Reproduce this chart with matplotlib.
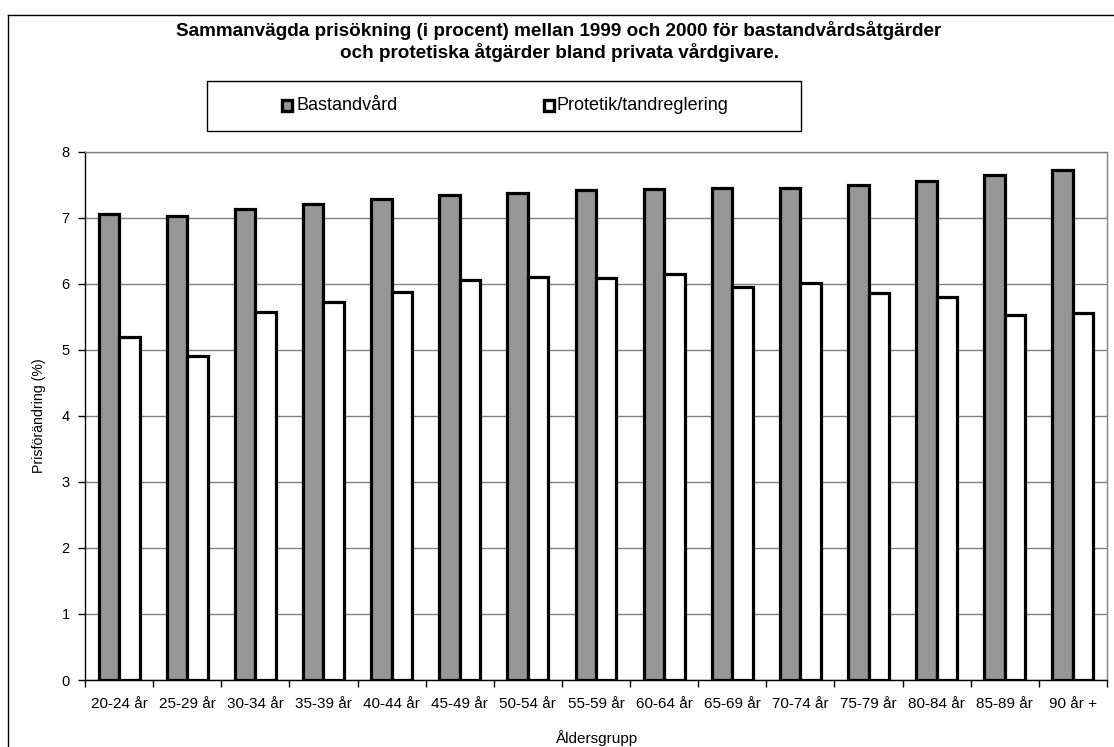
import matplotlib
matplotlib.use("Agg")
import matplotlib.pyplot as plt
from matplotlib.patches import Rectangle
from matplotlib.lines import Line2D
import numpy as np

plt.rcParams['font.family'] = ['Liberation Sans', 'DejaVu Sans']

categories = ["20-24 år", "25-29 år", "30-34 år", "35-39 år", "40-44 år", "45-49 år",
              "50-54 år", "55-59 år", "60-64 år", "65-69 år", "70-74 år", "75-79 år",
              "80-84 år", "85-89 år", "90 år +"]
bastandvard = [7.05, 7.03, 7.13, 7.21, 7.28, 7.34, 7.37, 7.42, 7.43, 7.45, 7.45, 7.50,
               7.55, 7.64, 7.72]
protetik = [5.20, 4.91, 5.58, 5.73, 5.87, 6.06, 6.10, 6.09, 6.15, 5.95, 6.01, 5.86,
            5.80, 5.53, 5.55]
series_names = ["Bastandvård", "Protetik/tandreglering"]
yticks = [0, 1, 2, 3, 4, 5, 6, 7, 8]

W, H = 1114, 747
fig = plt.figure(figsize=(W / 100, H / 100), dpi=100)

def fx(px):
    return px / W

def fy(py):
    return 1 - py / H

ax = fig.add_axes([fx(85), fy(680), fx(1107) - fx(85), fy(151.7) - fy(680)])

x = np.arange(len(categories))
bw = 0.3
gray = '#969696'
ax.bar(x - bw / 2, bastandvard, bw, color=gray, edgecolor='black', linewidth=2.3, zorder=3)
ax.bar(x + bw / 2, protetik, bw, color='white', edgecolor='black', linewidth=2.3, zorder=3)

ax.set_xlim(-0.5, len(categories) - 0.5)
ax.set_ylim(0, 8)
ax.set_yticks(yticks)
ax.set_yticklabels([str(v) for v in yticks], fontsize=10.5)
ax.yaxis.grid(True, color='#808080', linewidth=1.0, zorder=0)
ax.set_axisbelow(True)

ax.set_xticks(np.arange(-0.5, len(categories), 1.0))
ax.set_xticklabels([])
ax.set_xticks(x, minor=True)
ax.set_xticklabels(categories, minor=True, fontsize=11)
ax.tick_params(axis='x', which='major', direction='out', length=5, width=1, color='black')
ax.tick_params(axis='x', which='minor', length=0, pad=12)
ax.tick_params(axis='y', direction='out', length=5, width=1, color='black', pad=6)

for s in ['top', 'right']:
    ax.spines[s].set_color('#808080')
    ax.spines[s].set_linewidth(1.0)
for s in ['left', 'bottom']:
    ax.spines[s].set_color('black')
    ax.spines[s].set_linewidth(1.0)

fig.text(fx(39), fy(416), "Prisförändring (%)", rotation=90, ha='center', va='center', fontsize=10.2)
fig.text(fx(596), fy(738), "Åldersgrupp", ha='center', va='center', fontsize=11)

fig.text(fx(559), fy(30), "Sammanvägda prisökning (i procent) mellan 1999 och 2000 för bastandvårdsåtgärder",
         ha='center', va='center', fontsize=13.6, fontweight='bold')
fig.text(fx(559), fy(52), "och protetiska åtgärder bland privata vårdgivare.",
         ha='center', va='center', fontsize=13.6, fontweight='bold')

# outer chart frame (left and top edges visible)
fig.add_artist(Line2D([fx(7.5), fx(7.5)], [fy(14.5), fy(760)], color='black', linewidth=1.0))
fig.add_artist(Line2D([fx(7.5), fx(1120)], [fy(14.5), fy(14.5)], color='black', linewidth=1.0))

# legend
fig.add_artist(Rectangle((fx(207), fy(131)), fx(801) - fx(207), fy(81) - fy(131),
                         transform=fig.transFigure, facecolor='white', edgecolor='black', linewidth=1.0))
legend_items = [(series_names[0], gray, 281, 297), (series_names[1], 'white', 543, 557)]
for name, col, mx, tx in legend_items:
    fig.add_artist(Rectangle((fx(mx + 1), fy(110.5)), fx(10) - fx(0), fy(100) - fy(110.5),
                             transform=fig.transFigure, facecolor=col, edgecolor='black', linewidth=2.4))
    fig.text(fx(tx), fy(106), name, ha='left', va='center', fontsize=13)

fig.savefig("out.png", dpi=100)
